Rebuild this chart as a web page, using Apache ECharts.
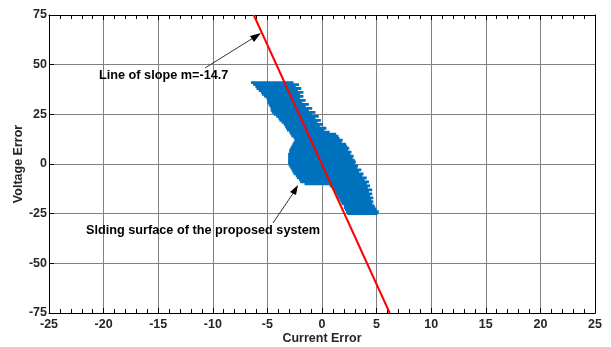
<!DOCTYPE html>
<html>
<head>
<meta charset="utf-8">
<script src="https://cdn.jsdelivr.net/npm/echarts@6/dist/echarts.min.js"></script>
<style>
  html, body { margin: 0; padding: 0; background: #fff; }
  #main { width: 611px; height: 347px; }
</style>
</head>
<body>
<div id="main"></div>
<script>
// 坐标轴范围
var xTicks = [-25, 25, 5];
var yTicks = [-75, 75, 25];

// 斜率线 m=-14.7 的两个端点
var lineX = [-6.25, 6.2];
var lineY = [75, -75];

// 滑模面轨迹：每一行一个电压误差，左右两端电流误差
var rowY = [41, 40, 39, 38, 37, 36, 35, 34, 33, 32, 31, 30, 29, 28, 27, 26, 25, 24, 23, 22,
    21, 20, 19, 18, 17, 16, 15, 14, 13, 12, 11, 10, 9, 8, 7, 6, 5, 4, 3, 2, 1, 0,
    -1, -2, -3, -4, -5, -6, -7, -8, -9, -10, -11, -12, -13, -14, -15, -16, -17, -18,
    -19, -20, -21, -22, -23, -24, -25];
var rowLeft = [-6.5, -6.3, -6.1, -6.0, -5.8, -5.6, -5.5, -5.3, -5.1, -5.0, -5.0, -4.9, -4.8, -4.7, -4.7, -4.6, -4.4, -4.2, -4.0, -3.9,
    -3.7, -3.5, -3.4, -3.3, -3.2, -3.0, -2.9, -2.8, -2.6, -2.5, -2.6, -2.7, -2.8, -2.9, -3.0, -3.0, -3.1, -3.1, -3.1, -3.1, -3.1, -3.1,
    -3.0, -2.9, -2.8, -2.7, -2.6, -2.4, -2.3, -2.1, -2.0, -1.6, 0.7, 0.9, 1.0, 1.1, 1.3, 1.4, 1.5, 1.6,
    1.7, 1.8, 2.0, 2.0, 2.1, 2.2, 2.3];
var rowRight = [-2.6, -2.1, -2.4, -1.9, -2.2, -1.7, -2.0, -1.7, -2.0, -1.5, -1.8, -1.2, -1.5, -0.9, -1.2, -0.6, -0.9, -0.3, -0.6, -0.1,
    -0.4, 0.1, -0.2, 0.4, 0.2, 0.7, 1.3, 1.5, 1.6, 1.9, 1.8, 2.2, 2.3, 2.5, 2.4, 2.7, 2.6, 2.9, 2.8, 3.0, 3.1, 3.0,
    3.3, 3.2, 3.6, 3.4, 3.8, 3.7, 4.1, 3.9, 4.3, 4.1, 4.4, 4.2, 4.6, 4.3, 4.6, 4.4, 4.7, 4.5,
    4.7, 4.6, 4.8, 4.9, 5.0, 5.2, 5.1];

var labelFont = 'Liberation Sans, Arial, sans-serif';

window.onload = function () {
    var surfData = [];
    for (var i = 0; i < rowY.length; i++) {
        surfData.push([rowLeft[i], rowY[i], rowRight[i]]);
    }

    var lineData = [];
    for (var j = 0; j < lineX.length; j++) {
        lineData.push([lineX[j], lineY[j]]);
    }

    var axisLbl = { color: '#262626', fontWeight: 'bold', fontSize: 12.5, fontFamily: labelFont };
    var nameStyle = { color: '#262626', fontWeight: 'bold', fontSize: 12.5, fontFamily: labelFont };

    var option = {
        animation: false,
        grid: { left: 49, right: 16, top: 15, bottom: 34, outerBoundsMode: 'none', containLabel: false },
        xAxis: [{
            type: 'value', min: xTicks[0], max: xTicks[1], interval: xTicks[2],
            name: 'Current Error', nameLocation: 'middle', nameGap: 19, nameMoveOverlap: false,
            nameTextStyle: nameStyle,
            axisLine: { show: true, onZero: false, lineStyle: { color: '#000', width: 1 } },
            axisTick: { show: true, inside: true, length: 5, lineStyle: { color: '#000' } },
            minorTick: { show: true, splitNumber: 5, length: 4, lineStyle: { color: '#000' } },
            axisLabel: Object.assign({ margin: 5 }, axisLbl),
            splitLine: { show: true, lineStyle: { color: '#808080', width: 1 } }
        }, {
            type: 'value', position: 'top', min: xTicks[0], max: xTicks[1], interval: xTicks[2],
            axisLine: { show: true, onZero: false, lineStyle: { color: '#000', width: 1 } },
            axisTick: { show: true, inside: true, length: 5, lineStyle: { color: '#000' } },
            minorTick: { show: true, splitNumber: 5, length: 4, lineStyle: { color: '#000' } },
            axisLabel: { show: false },
            splitLine: { show: false }
        }],
        yAxis: [{
            type: 'value', min: yTicks[0], max: yTicks[1], interval: yTicks[2],
            name: 'Voltage Error', nameLocation: 'middle', nameGap: 24, nameMoveOverlap: false,
            nameTextStyle: nameStyle,
            axisLine: { show: true, onZero: false, lineStyle: { color: '#000', width: 1 } },
            axisTick: { show: true, inside: true, length: 5, lineStyle: { color: '#000' } },
            axisLabel: Object.assign({ margin: 2 }, axisLbl),
            splitLine: { show: true, lineStyle: { color: '#808080', width: 1 } }
        }, {
            type: 'value', position: 'right', min: yTicks[0], max: yTicks[1], interval: yTicks[2],
            axisLine: { show: true, onZero: false, lineStyle: { color: '#000', width: 1 } },
            axisTick: { show: false },
            axisLabel: { show: false },
            splitLine: { show: false }
        }],
        series: [{
            type: 'custom',
            name: 'surface',
            clip: true,
            data: surfData,
            renderItem: function (params, api) {
                var p1 = api.coord([api.value(0), api.value(1)]);
                var p2 = api.coord([api.value(2), api.value(1)]);
                var h = api.size([0, 1])[1] * 1.4;
                return {
                    type: 'rect',
                    shape: { x: p1[0], y: p1[1] - h / 2, width: p2[0] - p1[0], height: h },
                    style: { fill: '#0072BD' }
                };
            },
            encode: { x: [0, 2], y: 1 }
        }, {
            type: 'line',
            name: 'slope',
            data: lineData,
            showSymbol: false,
            lineStyle: { color: '#ff0000', width: 2 },
            z: 5
        }],
        graphic: [
            {
                type: 'text', left: 99, top: 69, z: 10,
                style: { text: 'Line of slope m=-14.7', fill: '#000', font: 'bold 12.7px ' + labelFont }
            },
            {
                type: 'line', z: 10,
                shape: { x1: 205, y1: 68, x2: 258, y2: 35 },
                style: { stroke: '#333', lineWidth: 1 }
            },
            {
                type: 'polygon', z: 10,
                shape: { points: [[261, 33], [250, 36], [254, 42]] },
                style: { fill: '#000' }
            },
            {
                type: 'text', left: 86, top: 224, z: 10,
                style: { text: 'Slding surface of the proposed system', fill: '#000', font: 'bold 12.7px ' + labelFont }
            },
            {
                type: 'line', z: 10,
                shape: { x1: 273, y1: 223, x2: 296, y2: 189 },
                style: { stroke: '#333', lineWidth: 1 }
            },
            {
                type: 'polygon', z: 10,
                shape: { points: [[298, 185], [290, 192], [296, 195]] },
                style: { fill: '#000' }
            }
        ]
    };

    var chart = echarts.init(document.getElementById('main'));
    chart.setOption(option);
};
</script>
</body>
</html>
